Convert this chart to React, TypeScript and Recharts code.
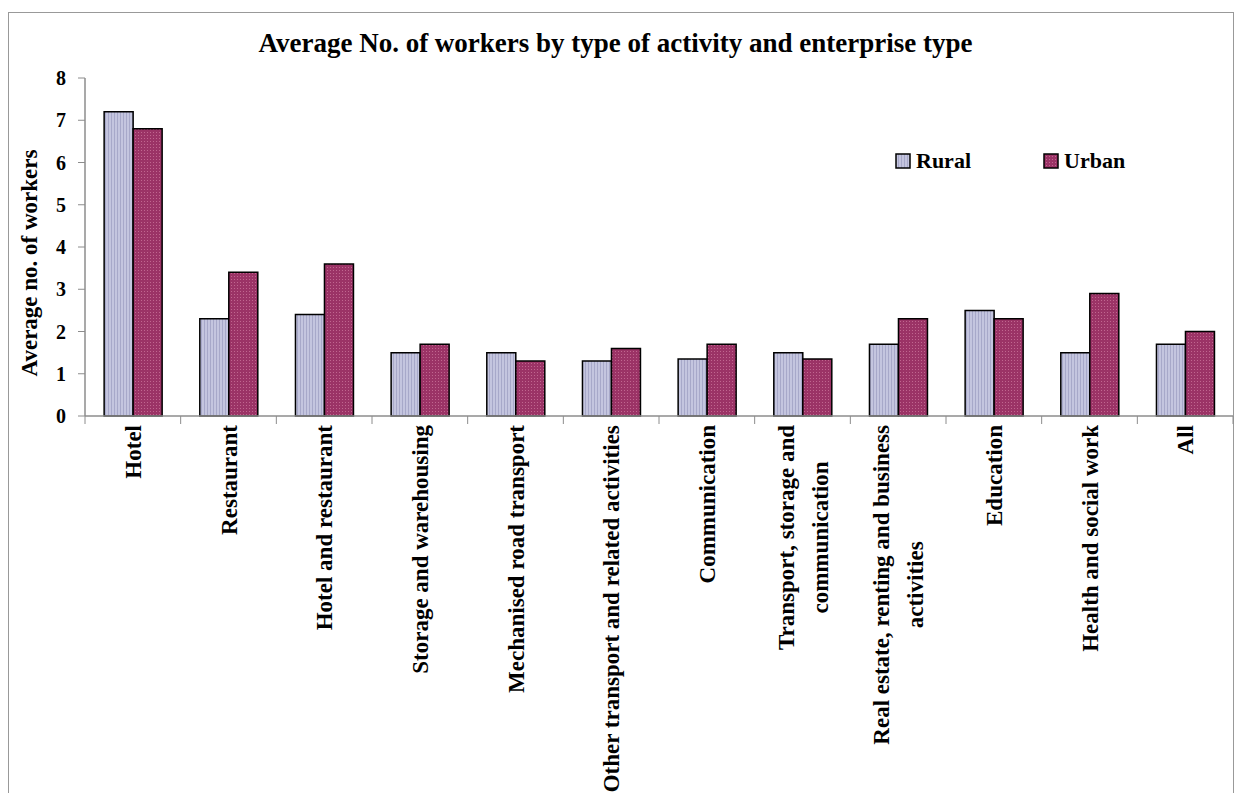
import React from "react";
import { BarChart, Bar, XAxis, YAxis, Legend, Label } from "recharts";

const categories = [
  "Hotel",
  "Restaurant",
  "Hotel and restaurant",
  "Storage and warehousing",
  "Mechanised road transport",
  "Other transport and related activities",
  "Communication",
  "Transport, storage and\ncommunication",
  "Real estate, renting and business\nactivities",
  "Education",
  "Health and social work",
  "All",
];
const rural = [7.2, 2.3, 2.4, 1.5, 1.5, 1.3, 1.35, 1.5, 1.7, 2.5, 1.5, 1.7];
const urban = [6.8, 3.4, 3.6, 1.7, 1.3, 1.6, 1.7, 1.35, 2.3, 2.3, 2.9, 2.0];
const yTicks = [0, 1, 2, 3, 4, 5, 6, 7, 8];

const data = categories.map((name, i) => ({ name, Rural: rural[i], Urban: urban[i] }));

const W = 1235;
const H = 793;
const MARGIN = { top: 78, right: 2, left: 25, bottom: 7 };
const Y_W = 60;
const BAND = (W - MARGIN.left - Y_W - MARGIN.right) / categories.length;
const FONT = '"Liberation Serif", "Times New Roman", serif';
const AXIS = "#8c8c8c";
const LABEL_SIZE = 23;

let ctx: CanvasRenderingContext2D | null = null;
function textWidth(s: string, size: number) {
  if (!ctx) ctx = document.createElement("canvas").getContext("2d");
  if (!ctx) return s.length * size * 0.45;
  ctx.font = `bold ${size}px "Liberation Serif"`;
  return ctx.measureText(s).width;
}

function XTick({ x, y, payload, index }: any) {
  const lines = String(payload.value).split("\n");
  const top = y + 9;
  const len = Math.max(...lines.map((l) => textWidth(l, LABEL_SIZE)));
  const cy = top + len / 2;
  const gap = 34;
  const x0 = x - ((lines.length - 1) * gap) / 2;
  return (
    <g>
      <line x1={x + BAND / 2} x2={x + BAND / 2} y1={y} y2={y + 8} stroke={AXIS} />
      {index === 0 && <line x1={x - BAND / 2} x2={x - BAND / 2} y1={y} y2={y + 8} stroke={AXIS} />}
      {lines.map((l, i) => (
        <text
          key={i}
          transform={`translate(${x0 + i * gap},${cy}) rotate(-90)`}
          textAnchor="middle"
          dy="0.35em"
          fontSize={LABEL_SIZE}
          fontWeight="bold"
          fontFamily={FONT}
          fill="#000"
        >
          {l}
        </text>
      ))}
    </g>
  );
}

function YLabel({ viewBox }: any) {
  const cx = viewBox.x + 4;
  const cy = viewBox.y + viewBox.height / 2 + 16;
  return (
    <text
      transform={`translate(${cx},${cy}) rotate(-90)`}
      textAnchor="middle"
      dy="0.35em"
      fontSize={LABEL_SIZE}
      fontWeight="bold"
      fontFamily={FONT}
      fill="#000"
    >
      Average no. of workers
    </text>
  );
}

function LegendBox() {
  const items = [
    { name: "Rural", fill: "url(#ruralPat)" },
    { name: "Urban", fill: "url(#urbanPat)" },
  ];
  return (
    <div style={{ display: "flex", alignItems: "center", fontFamily: FONT, fontWeight: "bold", fontSize: 22 }}>
      {items.map((it) => (
        <div key={it.name} style={{ display: "flex", alignItems: "center", width: 148 }}>
          <svg width={16} height={16} style={{ marginRight: 5 }}>
            <rect x={1} y={1} width={14} height={14} fill={it.fill} stroke="#000" strokeWidth={1.5} />
          </svg>
          <span>{it.name}</span>
        </div>
      ))}
    </div>
  );
}

export default function App() {
  return (
    <div style={{ position: "absolute", left: 0, top: 0, width: W, height: H, overflow: "hidden", background: "#fff" }}>
      <div
        style={{
          position: "absolute",
          left: 8,
          top: 12,
          width: 1226,
          height: 800,
          border: "1.5px solid #999",
          boxSizing: "border-box",
        }}
      />
      <div
        style={{
          position: "absolute",
          left: 0,
          top: 30,
          width: 1231,
          textAlign: "center",
          fontFamily: FONT,
          fontWeight: "bold",
          fontSize: 27,
          lineHeight: "27px",
        }}
      >
        Average No. of workers by type of activity and enterprise type
      </div>
      <div style={{ position: "absolute", left: 0, top: 0 }}>
        <BarChart width={W} height={H} data={data} margin={MARGIN} barCategoryGap="20%" barGap={0}>
          <defs>
            <pattern id="ruralPat" patternUnits="userSpaceOnUse" width={3} height={3}>
              <rect width={3} height={3} fill="#c4c5df" />
              <rect width={1} height={3} fill="#a7a8c9" />
            </pattern>
            <pattern id="urbanPat" patternUnits="userSpaceOnUse" width={3} height={3}>
              <rect width={3} height={3} fill="#9b3366" />
              <rect width={1} height={1} fill="#c0668f" />
            </pattern>
          </defs>
          <XAxis
            dataKey="name"
            interval={0}
            height={370}
            tickLine={false}
            tickSize={0}
            tickMargin={0}
            axisLine={{ stroke: AXIS, strokeWidth: 1.5 }}
            tick={<XTick />}
          />
          <YAxis
            width={Y_W}
            domain={[0, 8]}
            ticks={yTicks}
            interval={0}
            tickSize={7}
            tickMargin={12}
            axisLine={{ stroke: AXIS, strokeWidth: 1.5 }}
            tickLine={{ stroke: AXIS }}
            tick={{ fontSize: 20, fontWeight: "bold", fontFamily: FONT, fill: "#000" }}
          >
            <Label content={<YLabel />} />
          </YAxis>
          <Legend
            layout="horizontal"
            verticalAlign="middle"
            content={<LegendBox />}
            wrapperStyle={{ position: "absolute", top: 148, left: 895, width: 320 }}
          />
          <Bar dataKey="Rural" fill="url(#ruralPat)" stroke="#000" strokeWidth={1.5} isAnimationActive={false} />
          <Bar dataKey="Urban" fill="url(#urbanPat)" stroke="#000" strokeWidth={1.5} isAnimationActive={false} />
        </BarChart>
      </div>
    </div>
  );
}
